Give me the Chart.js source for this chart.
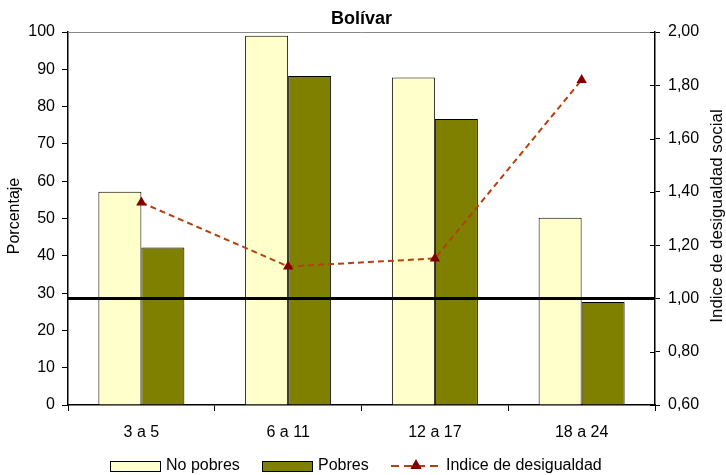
<!DOCTYPE html>
<html><head><meta charset="utf-8">
<script src="https://cdn.jsdelivr.net/npm/chart.js@4/dist/chart.umd.min.js"></script>
<style>html,body{margin:0;padding:0;background:#fff}#wrap{width:726px;height:475px;position:relative}</style>
</head><body><div id="wrap"><canvas id="c" width="726" height="475"></canvas></div>
<script>
const categories = ['3 a 5', '6 a 11', '12 a 17', '18 a 24'];
const noPobres = [57.2, 99.0, 87.8, 50.2];
const pobres = [42.2, 88.2, 76.7, 27.6];
const indice = [1.36, 1.12, 1.15, 1.82];
const referenceLevel = 1.00;
const chartTitle = 'Bolívar';
const leftTitle = 'Porcentaje';
const rightTitle = 'Indice de desigualdad social';
const seriesNames = ['No pobres', 'Pobres', 'Indice de desigualdad'];

const FONT = '"Liberation Sans", Arial, sans-serif';
Chart.defaults.font.family = FONT;
Chart.defaults.font.size = 16;
Chart.defaults.color = '#000';

const COL_NP = '#FFFFCC', COL_P = '#808000', COL_LINE = '#B5400F', COL_MARK = '#800000';

function drawTriangle(ctx, x, y, r, color) {
  ctx.save();
  ctx.fillStyle = color;
  ctx.beginPath();
  ctx.moveTo(x, y - r);
  ctx.lineTo(x + r * 0.95, y + r * 0.65);
  ctx.lineTo(x - r * 0.95, y + r * 0.65);
  ctx.closePath();
  ctx.fill();
  ctx.restore();
}

const decor = {
  id: 'decor',
  beforeDatasetsDraw(chart) {
    const {ctx, chartArea: a} = chart;
    ctx.save();
    ctx.strokeStyle = '#888';
    ctx.lineWidth = 1;
    ctx.beginPath();
    ctx.moveTo(a.left, a.top + 0.5);
    ctx.lineTo(a.right, a.top + 0.5);
    ctx.stroke();
    ctx.restore();
  },
  afterDatasetsDraw(chart) {
    const {ctx, chartArea: a, scales} = chart;
    const y2 = scales.y2;
    ctx.save();
    const yy = y2.getPixelForValue(referenceLevel);
    ctx.strokeStyle = '#000';
    ctx.lineWidth = 3;
    ctx.beginPath();
    ctx.moveTo(a.left, yy);
    ctx.lineTo(a.right, yy);
    ctx.stroke();
    ctx.lineWidth = 1;
    ctx.strokeStyle = '#000';
    y2.ticks.forEach(t => {
      const p = Math.round(y2.getPixelForValue(t.value)) + 0.5;
      ctx.beginPath();
      ctx.moveTo(a.right - 5, p);
      ctx.lineTo(a.right, p);
      ctx.stroke();
    });
    ctx.restore();
  },
  afterDraw(chart) {
    const {ctx, chartArea: a} = chart;
    ctx.save();
    ctx.fillStyle = '#000';
    ctx.font = 'bold 18px ' + FONT;
    ctx.textAlign = 'center';
    ctx.textBaseline = 'middle';
    ctx.fillText(chartTitle, (a.left + a.right) / 2, 19);
    ctx.font = '16px ' + FONT;
    ctx.save();
    ctx.translate(15, 216);
    ctx.rotate(-Math.PI / 2);
    ctx.fillText(leftTitle, 0, 0);
    ctx.restore();
    ctx.font = '17px ' + FONT;
    ctx.save();
    ctx.translate(717, 216);
    ctx.rotate(-Math.PI / 2);
    ctx.fillText(rightTitle, 0, 0);
    ctx.restore();
    // legend
    const ly = 466;
    ctx.font = '16px ' + FONT;
    ctx.textAlign = 'left';
    ctx.lineWidth = 1;
    ctx.strokeStyle = '#000';
    ctx.fillStyle = COL_NP;
    ctx.fillRect(110, 461, 50, 10);
    ctx.strokeRect(110.5, 461.5, 50, 10);
    ctx.fillStyle = COL_P;
    ctx.fillRect(262, 461, 50, 10);
    ctx.strokeRect(262.5, 461.5, 50, 10);
    ctx.fillStyle = '#000';
    ctx.fillText(seriesNames[0], 166, ly);
    ctx.fillText(seriesNames[1], 318, ly);
    ctx.strokeStyle = COL_LINE;
    ctx.lineWidth = 2;
    ctx.setLineDash([8, 5]);
    ctx.beginPath();
    ctx.moveTo(391, ly);
    ctx.lineTo(441, ly);
    ctx.stroke();
    ctx.setLineDash([]);
    drawTriangle(ctx, 416, ly - 1, 6, COL_MARK);
    ctx.fillStyle = '#000';
    ctx.fillText(seriesNames[2], 446, ly);
    ctx.restore();
  }
};

new Chart(document.getElementById('c'), {
  data: {
    labels: categories,
    datasets: [
      {type: 'line', label: seriesNames[2], data: indice, yAxisID: 'y2', order: 0,
       borderColor: COL_LINE, borderWidth: 2, borderDash: [6, 4], fill: false, tension: 0,
       pointStyle: 'triangle', pointRadius: 6, pointBackgroundColor: COL_MARK, pointBorderColor: COL_MARK, pointBorderWidth: 0},
      {type: 'bar', label: seriesNames[0], data: noPobres, yAxisID: 'y', order: 1,
       backgroundColor: COL_NP, borderColor: '#000', borderWidth: 1,
       categoryPercentage: 0.586, barPercentage: 1.0},
      {type: 'bar', label: seriesNames[1], data: pobres, yAxisID: 'y', order: 1,
       backgroundColor: COL_P, borderColor: '#000', borderWidth: 1,
       categoryPercentage: 0.586, barPercentage: 1.0}
    ]
  },
  options: {
    responsive: false,
    animation: false,
    devicePixelRatio: 1,
    layout: {padding: {top: 32, bottom: 30, left: 0, right: 0}},
    plugins: {legend: {display: false}, title: {display: false}, tooltip: {enabled: false}},
    scales: {
      x: {
        offset: true,
        grid: {display: true, offset: true, drawOnChartArea: false, drawTicks: true, tickLength: 6, color: '#000'},
        border: {display: true, color: '#000', width: 1.5},
        ticks: {padding: 12, font: {size: 16}, color: '#000'},
        afterFit: s => { s.height = 40; }
      },
      y: {
        position: 'left', min: 0, max: 100,
        grid: {display: true, drawOnChartArea: false, drawTicks: true, tickLength: 6, color: '#000'},
        border: {display: true, color: '#000', width: 1.5},
        ticks: {stepSize: 10, padding: 7, font: {size: 16}, color: '#000'},
        afterFit: s => { s.width = 68; }
      },
      y2: {
        position: 'right', min: 0.6, max: 2.0,
        grid: {display: true, drawOnChartArea: false, drawTicks: true, tickLength: 5, color: '#000'},
        border: {display: true, color: '#000', width: 1.5},
        ticks: {stepSize: 0.2, padding: 8, font: {size: 16}, color: '#000',
          callback: v => Number(v).toFixed(2).replace('.', ',')},
        afterFit: s => { s.width = 71; }
      }
    }
  },
  plugins: [decor]
});
</script></body></html>
